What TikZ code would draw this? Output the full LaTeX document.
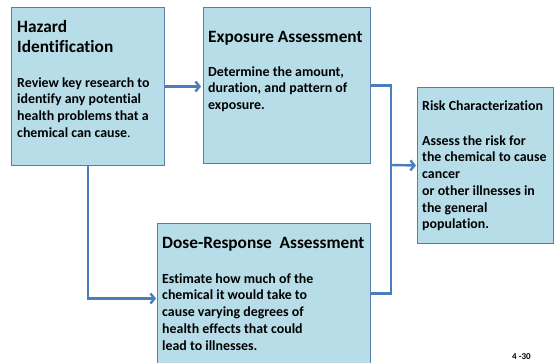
\documentclass[tikz,border=0pt]{standalone}
\usepackage{fontspec}
\setmainfont{Carlito}[Ligatures=NoCommon]
\usetikzlibrary{arrows.meta}
\definecolor{boxfill}{HTML}{B7DDE8}
\definecolor{boxline}{HTML}{5A7DA8}
\definecolor{flow}{HTML}{4A7EBB}
\begin{document}
\begin{tikzpicture}[x=1pt,y=-1pt,
  stage/.style={draw=boxline, fill=boxfill, line width=1pt, anchor=north west, inner sep=0pt},
  stagetitle/.style={anchor=north west, inner sep=0pt, align=left, font=\bfseries\fontsize{17.3}{20}\selectfont},
  stagebody/.style={anchor=north west, inner sep=0pt, align=left, font=\bfseries\fontsize{13.9}{16.7}\selectfont},
  flowline/.style={draw=flow, line width=2.4pt},
  flowarrow/.style={flowline, -{Straight Barb[length=4pt,width=10pt]}}]
\useasboundingbox (0,0) rectangle (554,362);
\clip (0,0) rectangle (554,362);
\node[stage, minimum width=153pt, minimum height=158pt](hazard) at (11,7){};
\node[stage, minimum width=167pt, minimum height=156pt](exposure) at (203,7){};
\node[stage, minimum width=136pt, minimum height=156pt](risk) at (417,87){};
\node[stage, minimum width=213pt, minimum height=140pt](dose) at (157,223){};
\node[stagetitle](hazardtitle) at (17,20){Hazard\\Identification};
\node[stagebody](hazardtext) at (17,77.3){Review key research to\\identify any potential\\health problems that a\\chemical can cause{\mdseries.}};
\node[stagetitle](exposuretitle) at (208,31){Exposure Assessment};
\node[stagebody](exposuretext) at (208,66.3){Determine the amount,\\duration, and pattern of\\exposure.};
\node[stagetitle, font=\bfseries\fontsize{13.9}{16.7}\selectfont](risktitle) at (422,100.3){Risk Characterization};
\node[stagebody](risktext) at (422,135.3){Assess the risk for\\the chemical to cause\\cancer\\or other illnesses in\\the general\\population.};
\node[stagetitle](dosetitle) at (162,237){Dose-Response\ \ Assessment};
\node[stagebody](dosetext) at (162,273.3){Estimate how much of the\\chemical it would take to\\cause varying degrees of\\health effects that could\\lead to illnesses.};
\node[anchor=north west, inner sep=0pt, font=\bfseries\fontsize{9}{9}\selectfont](pagenum) at (512,353){4 -30};
\coordinate (join) at (391,165);
\draw[flowarrow, shorten >=2pt] (hazard.east) -- (hazard.east -| exposure.west);
\draw[flowline] (exposure.east) -| (join);
\draw[flowline] (dose.east) -| (join);
\draw[flowarrow, shorten >=1pt] (join) -- (risk.west);
\draw[flowarrow, shorten >=1pt] (hazard.south) |- ([yshift=-5pt]dose.west);
\end{tikzpicture}
\end{document}
